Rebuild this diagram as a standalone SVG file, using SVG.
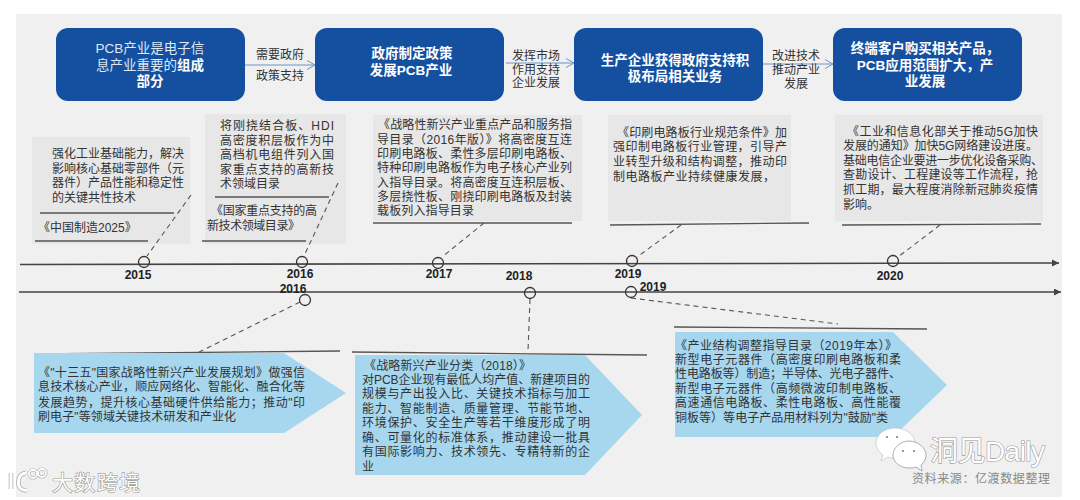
<svg xmlns="http://www.w3.org/2000/svg" width="1080" height="500" viewBox="0 0 1080 500">
<defs>
<marker id="open" markerWidth="10" markerHeight="12" refX="9" refY="5" orient="auto" markerUnits="userSpaceOnUse"><path d="M1 .5 L9 5 L1 9.5" fill="none" stroke="#6f93c7" stroke-width="1"/></marker>
<marker id="solid" markerWidth="8" markerHeight="8" refX="7" refY="3.500" orient="auto" markerUnits="userSpaceOnUse"><path d="M0 0 L7 3.500 L0 7Z" fill="#444"/></marker>
</defs>
<style>
text{font-family:"Liberation Sans","Noto Sans CJK SC",sans-serif}
.box{fill:#14509f}
.note{fill:#e7e7e7}
.arrow{fill:#a6d7ef}
.t{font-size:12px;fill:#333}
.c{font-size:12px;fill:#333;text-anchor:middle}
.h{font-size:13.500px;fill:#fff;font-weight:700;text-anchor:middle}
.r{font-weight:400;fill:#dfe8f5}
.y{font-size:12px;font-weight:700;fill:#222;text-anchor:middle}
.rule{stroke:#555;stroke-width:1.300;fill:none}
.dash{stroke:#555;stroke-width:1.100;stroke-dasharray:5 4;fill:none}
.flow{stroke:#6f93c7;stroke-width:1.200;fill:none;marker-end:url(#open)}
.axis{stroke:#444;stroke-width:1.600;fill:none;marker-end:url(#solid)}
.dot{fill:none;stroke:#333;stroke-width:1.300}
.wm{fill:#fff;stroke:#999;stroke-width:1.200;paint-order:stroke}
</style>
<rect x="16" y="14" width="1046" height="483" fill="#f0f0f0"/>

<g id="notes-bg">
<rect class="note" x="32" y="137" width="158" height="107"/>
<rect class="note" x="205" y="114" width="141" height="130"/>
<rect class="note" x="373" y="115" width="209" height="106"/>
<rect class="note" x="608" y="115" width="183" height="106"/>
<rect class="note" x="835" y="115" width="208" height="106"/>
</g>

<g id="connectors">
<path class="flow" d="M245 65H315"/>
<path class="flow" d="M506 63H574"/>
<path class="flow" d="M763 64H833"/>
<path class="axis" d="M20 264.500L1059 263"/>
<path class="axis" d="M19 292H1061"/>
<path class="dash" d="M191 195L147 256"/>
<path class="dash" d="M338 183L304 256"/>
<path class="dash" d="M484 223L442 257"/>
<path class="dash" d="M681 225L637 257"/>
<path class="dash" d="M940 225L898 257"/>
<path class="dash" d="M300 302L195 354"/>
<path class="dash" d="M530 299L528 351"/>
<path class="dash" d="M631 298L838 324"/>
<path class="rule" d="M40 213H174M35 241H148M215 197H329M202 241H306M373 223H572M610 225L809 223M842 225L1041 224M36 354L340 351M352 352L647 355M674 327L927 329"/>
</g>

<g id="step1"><rect class="box" x="56" y="28" width="189" height="73" rx="12"/>
<text class="h" x="150" y="53"><tspan class="r">PCB产业是电子信</tspan></text>
<text class="h" x="150" y="70"><tspan class="r">息产业重要的</tspan>组成</text>
<text class="h" x="150" y="86">部分</text></g>
<g id="step2"><rect class="box" x="315" y="28" width="189" height="73" rx="12"/>
<text class="h" x="412" y="58">政府制定政策</text>
<text class="h" x="411" y="75">发展PCB产业</text></g>
<g id="step3"><rect class="box" x="574" y="28" width="189" height="73" rx="12"/>
<text class="h" x="675" y="65">生产企业获得政府支持积</text>
<text class="h" x="675" y="81">极布局相关业务</text></g>
<g id="step4"><rect class="box" x="833" y="28" width="189" height="73" rx="12"/>
<text class="h" x="925" y="53">终端客户购买相关产品，</text>
<text class="h" x="925" y="70">PCB应用范围扩大，产</text>
<text class="h" x="925" y="86">业发展</text></g>

<g id="flow-labels">
<text class="c" x="280" y="59">需要政府</text>
<text class="c" x="280" y="80">政策支持</text>
<text class="c" x="536" y="60">发挥市场</text>
<text class="c" x="536" y="74">作用支持</text>
<text class="c" x="536" y="87">企业发展</text>
<text class="c" x="796" y="60">改进技术</text>
<text class="c" x="796" y="74">推动产业</text>
<text class="c" x="796" y="88">发展</text>
</g>

<g id="note-2015">
<text class="t" x="52" y="158" textLength="132">强化工业基础能力，解决</text>
<text class="t" x="52" y="173" textLength="132">影响核心基础零部件（元</text>
<text class="t" x="52" y="187" textLength="132">器件）产品性能和稳定性</text>
<text class="t" x="52" y="202" textLength="84">的关键共性技术</text>
<text class="t" x="38" y="232">《中国制造2025》</text>
</g>
<g id="note-2016a">
<text class="t" x="220" y="130" textLength="114">将刚挠结合板、HDI</text>
<text class="t" x="220" y="145" textLength="114">高密度积层板作为中</text>
<text class="t" x="220" y="159" textLength="114">高档机电组件列入国</text>
<text class="t" x="220" y="174" textLength="114">家重点支持的高新技</text>
<text class="t" x="220" y="188" textLength="60">术领域目录</text>
<text class="t" x="211" y="215" textLength="106">《国家重点支持的高</text>
<text class="t" x="207" y="230" textLength="93">新技术领域目录》</text>
</g>
<g id="note-2017">
<text class="t" x="378" y="129" textLength="194">《战略性新兴产业重点产品和服务指</text>
<text class="t" x="377" y="144" textLength="195">导目录（2016年版）》将高密度互连</text>
<text class="t" x="377" y="158" textLength="195">印刷电路板、柔性多层印刷电路板、</text>
<text class="t" x="377" y="172" textLength="195">特种印刷电路板作为电子核心产业列</text>
<text class="t" x="377" y="187" textLength="195">入指导目录。将高密度互连积层板、</text>
<text class="t" x="377" y="201" textLength="195">多层挠性板、刚挠印刷电路板及封装</text>
<text class="t" x="377" y="215" textLength="97">载板列入指导目录</text>
</g>
<g id="note-2019a">
<text class="t" x="617" y="137" textLength="170">《印刷电路板行业规范条件》加</text>
<text class="t" x="613" y="151" textLength="174">强印制电路板行业管理，引导产</text>
<text class="t" x="613" y="166" textLength="174">业转型升级和结构调整，推动印</text>
<text class="t" x="613" y="181" textLength="162">制电路板产业持续健康发展，</text>
</g>
<g id="note-2020">
<text class="t" x="847" y="136" textLength="191">《工业和信息化部关于推动5G加快</text>
<text class="t" x="843" y="150" textLength="195">发展的通知》加快5G网络建设进度。</text>
<text class="t" x="843" y="165" textLength="200">基础电信企业要进一步优化设备采购、</text>
<text class="t" x="843" y="179" textLength="195">查勘设计、工程建设等工作流程，抢</text>
<text class="t" x="843" y="194" textLength="195">抓工期，最大程度消除新冠肺炎疫情</text>
<text class="t" x="843" y="209" textLength="36">影响。</text>
</g>

<g id="timeline-marks">
<circle class="dot" cx="144" cy="262" r="5.500"/><circle class="dot" cx="302" cy="262" r="5.500"/><circle class="dot" cx="438" cy="263" r="5.500"/><circle class="dot" cx="632" cy="261" r="5.500"/><circle class="dot" cx="893" cy="261" r="5.500"/>
<circle class="dot" cx="305" cy="300" r="5.500"/><circle class="dot" cx="530" cy="293" r="5.500"/><circle class="dot" cx="631" cy="292" r="5.500"/>
<text class="y" x="138" y="279">2015</text><text class="y" x="300" y="278">2016</text><text class="y" x="293" y="293">2016</text><text class="y" x="439" y="278">2017</text><text class="y" x="519" y="280">2018</text><text class="y" x="628" y="278">2019</text><text class="y" x="653" y="291">2019</text><text class="y" x="890" y="280">2020</text>
</g>

<g id="plan-2016">
<path class="arrow" d="M34 353H284L346 393L284 433H34Z"/>
<text class="t" x="38" y="377" textLength="267">《"十三五"国家战略性新兴产业发展规划》做强信</text>
<text class="t" x="38" y="391" textLength="267">息技术核心产业，顺应网络化、智能化、融合化等</text>
<text class="t" x="38" y="407" textLength="267">发展趋势，提升核心基础硬件供给能力；推动"印</text>
<text class="t" x="38" y="421" textLength="198">刷电子"等领域关键技术研发和产业化</text>
</g>
<g id="plan-2018">
<path class="arrow" d="M355 355H585L642 415L585 475H355Z"/>
<text class="t" x="364" y="370" textLength="167">《战略新兴产业分类（2018）》</text>
<text class="t" x="362" y="384" textLength="228">对PCB企业现有最低人均产值、新建项目的</text>
<text class="t" x="362" y="398" textLength="228">规模与产出投入比、关键技术指标与加工</text>
<text class="t" x="362" y="413" textLength="228">能力、智能制造、质量管理、节能节地、</text>
<text class="t" x="362" y="427" textLength="228">环境保护、安全生产等若干维度形成了明</text>
<text class="t" x="362" y="442" textLength="228">确、可量化的标准体系，推动建设一批具</text>
<text class="t" x="362" y="456" textLength="228">有国际影响力、技术领先、专精特新的企</text>
<text class="t" x="362" y="471">业</text>
</g>
<g id="plan-2019">
<path class="arrow" d="M675 332H893L947 385L893 437H675Z"/>
<text class="t" x="675" y="350" textLength="222">《产业结构调整指导目录（2019年本）》</text>
<text class="t" x="675" y="364" textLength="226">新型电子元器件（高密度印刷电路板和柔</text>
<text class="t" x="675" y="378" textLength="226">性电路板等）制造；半导体、光电子器件、</text>
<text class="t" x="675" y="393" textLength="226">新型电子元器件（高频微波印制电路板、</text>
<text class="t" x="675" y="407" textLength="226">高速通信电路板、柔性电路板、高性能覆</text>
<text class="t" x="675" y="422" textLength="213">铜板等）等电子产品用材料列为"鼓励"类</text>
</g>

<g id="watermarks">
<path d="M895 428c-11 0-19 7-19 15 0 5 3 9 7 12l-2 6 7-4c3 1 6 1 9 1 10 0 18-7 18-15s-9-15-20-15Z" fill="#fff" stroke="#bbb" stroke-width=".6"/>
<path d="M909 441c-9 0-16 7-16 14s7 13 16 13c2 0 5 0 7-1l6 4-1-6c3-2 5-6 5-10 0-7-8-14-17-14Z" fill="#fff" stroke="#999" stroke-width=".8"/>
<g fill="#777"><circle cx="887" cy="437" r="1"/><circle cx="897" cy="437" r="1"/><circle cx="903" cy="451" r="1"/><circle cx="914" cy="451" r="1"/></g>
<text class="wm" x="930" y="461" font-size="28" textLength="115">洞见Daily</text>
<text x="912" y="483" font-size="12" fill="#888" textLength="138">资料来源：亿渡数据整理</text>
<path d="M11 473V489M26 473C16 473 15 492 27 490" fill="none" stroke="#aaa" stroke-width="4.500"/>
<path d="M11 473V489M26 473C16 473 15 492 27 490" fill="none" stroke="#fff" stroke-width="3"/>
<circle cx="33" cy="474" r="4" fill="none" stroke="#aaa" stroke-width="3"/><circle cx="42" cy="473" r="4" fill="none" stroke="#aaa" stroke-width="3"/>
<circle cx="33" cy="474" r="4" fill="none" stroke="#fff" stroke-width="1.800"/><circle cx="42" cy="473" r="4" fill="none" stroke="#fff" stroke-width="1.800"/>
<text class="wm" x="52" y="490" font-size="21" textLength="88">大数跨境</text>
</g>
</svg>
